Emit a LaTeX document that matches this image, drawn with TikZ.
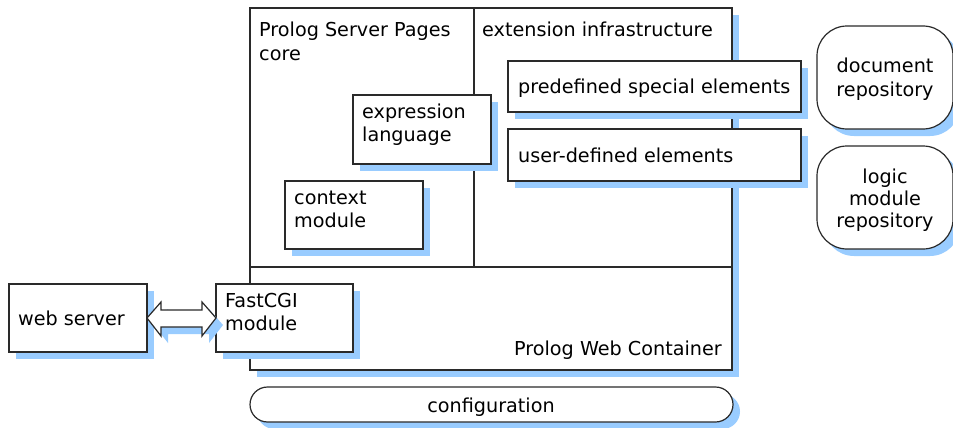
\documentclass[tikz,border=0pt]{standalone}
\usepackage{fontspec}
\setmainfont{DejaVu Sans}
\usetikzlibrary{shadows}
\definecolor{shadowblue}{HTML}{99CCFF}
\definecolor{edge}{HTML}{2A2A2A}
\tikzset{
  x=1pt, y=-1pt,
  sh/.style={drop shadow={shadow xshift=7pt, shadow yshift=-7pt, fill=shadowblue, opacity=1}},
  boxnode/.style={draw=edge, line width=1.2pt, fill=white, inner sep=0pt, outer sep=0pt, anchor=north west, sh},
  roundbox/.style={boxnode, rounded corners=30pt},
  lbl/.style={inner sep=0pt, anchor=base west, font=\fontsize{19.2}{23}\selectfont},
  clbl/.style={inner sep=0pt, anchor=base, font=\fontsize{19.2}{23}\selectfont},
  divline/.style={draw=edge, line width=1.2pt},
  arrowshape/.style={draw=edge, line width=1.2pt, fill=white, sh, line join=miter}
}
\begin{document}
\begin{tikzpicture}
\useasboundingbox (0,0) rectangle (953,428);
% main container
\node[boxnode, minimum width=482pt, minimum height=362pt] (cont) at (250,8) {};
\coordinate (dtop) at (474,8);
\coordinate (dmid) at (474,267);
\coordinate (hl) at (250,267);
\coordinate (hr) at (732,267);
\draw[divline] (dtop) -- (dmid);
\draw[divline] (hl) -- (hr);
% inner boxes
\node[boxnode, minimum width=138pt, minimum height=69pt] (expr) at (353,95) {};
\node[boxnode, minimum width=138pt, minimum height=68pt] (ctx) at (285,181) {};
\node[boxnode, minimum width=293pt, minimum height=51pt] (pre) at (508,61) {};
\node[boxnode, minimum width=293pt, minimum height=52pt] (user) at (508,129) {};
% repositories
\node[roundbox, minimum width=136pt, minimum height=103pt] (docrep) at (817,26) {};
\node[roundbox, minimum width=136pt, minimum height=103pt] (logrep) at (817,146) {};
% web server and fastcgi
\node[boxnode, minimum width=138pt, minimum height=68pt] (web) at (9,284) {};
\node[boxnode, minimum width=137pt, minimum height=68pt] (fcgi) at (216,284) {};
% double arrow
\draw[arrowshape] (web.east |- 0,318) -- (161,302) -- (161,310) -- (202,310) -- (202,302) -- (fcgi.west |- 0,318) -- (202,336) -- (202,327) -- (161,327) -- (161,336) -- cycle;
% configuration
\node[boxnode, rounded corners=17.5pt, minimum width=483pt, minimum height=35pt] (config) at (250,387) {};
% labels
\node[lbl] (tpsp1) at (259,37) {Prolog Server Pages};
\node[lbl] (tpsp2) at (259,60) {core};
\node[lbl] (text) at (482,37) {extension infrastructure};
\node[lbl] (texpr1) at (362,118) {expression};
\node[lbl] (texpr2) at (362,141) {language};
\node[lbl] (tctx1) at (294,204) {context};
\node[lbl] (tctx2) at (294,227) {module};
\node[lbl] (tpre) at (518,93) {predefined special elements};
\node[lbl] (tuser) at (518,162) {user-defined elements};
\node[lbl] (tweb) at (18,325) {web server};
\node[lbl] (tfc1) at (225,307) {FastCGI};
\node[lbl] (tfc2) at (225,330) {module};
\node[inner sep=0pt, anchor=base east, font=\fontsize{19.2}{23}\selectfont] (tpwc) at (722,355) {Prolog Web Container};
\node[clbl] (tdoc1) at (885,73) {document};
\node[clbl] (tdoc2) at (885,96) {repository};
\node[clbl] (tlog1) at (885,183) {logic};
\node[clbl] (tlog2) at (885,205) {module};
\node[clbl] (tlog3) at (885,227) {repository};
\node[clbl] (tconf) at (491,412) {configuration};
\end{tikzpicture}
\end{document}
